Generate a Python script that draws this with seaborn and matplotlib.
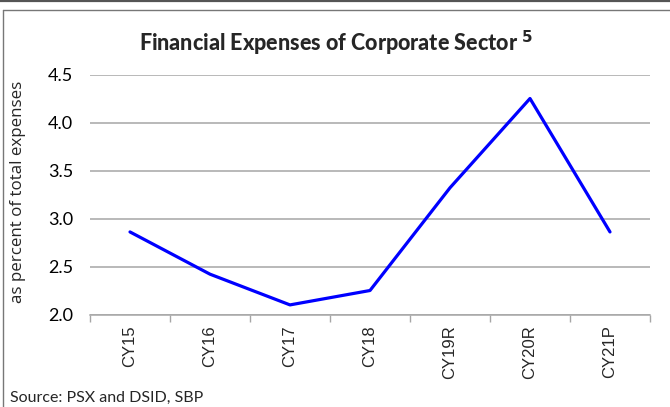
import matplotlib
matplotlib.use("Agg")
import matplotlib.pyplot as plt
import seaborn as sns
import pandas as pd
from matplotlib.lines import Line2D
from matplotlib.ticker import FixedLocator

categories = ["CY15", "CY16", "CY17", "CY18", "CY19R", "CY20R", "CY21P"]
values = [2.86, 2.42, 2.10, 2.25, 3.32, 4.25, 2.86]
yticks = [2.0, 2.5, 3.0, 3.5, 4.0, 4.5]

sns.set_theme(style="white")
plt.rcParams['font.family'] = ['Lato', 'DejaVu Sans']

df = pd.DataFrame({"cat": categories, "val": values})

fig = plt.figure(figsize=(6.7, 4.07), dpi=100)
ax = fig.add_axes([90/670, 1-314.5/407, 560/670, 240/407])

sns.lineplot(data=df, x="cat", y="val", ax=ax, color="#0000FF", linewidth=2.3, sort=False)

ax.set_xlim(-0.5, len(categories)-0.5)
ax.set_ylim(2.0, 4.5)
ax.set_yticks(yticks)
ax.set_yticklabels([f"{v:.1f}" for v in yticks], fontsize=13, family=['Lato', 'DejaVu Sans'])
ax.yaxis.grid(True, color="#a6a6a6", linewidth=1.1)
ax.xaxis.grid(False)
ax.tick_params(axis='y', length=0, pad=12, colors="black")
ax.set_xticks(range(len(categories)))
ax.set_xticklabels(categories, rotation=90, fontsize=12, family=['Liberation Sans'])
ax.xaxis.set_minor_locator(FixedLocator([i - 0.5 for i in range(len(categories)+1)]))
ax.tick_params(axis='x', which='major', length=0, pad=8)
ax.tick_params(axis='x', which='minor', length=5, width=1, color="#a6a6a6", bottom=True)
for s in ["top", "right", "left"]:
    ax.spines[s].set_visible(False)
ax.spines["bottom"].set_color("#a6a6a6")
ax.spines["bottom"].set_linewidth(1.1)
ax.set_xlabel("")
ax.set_ylabel("")

fig.text(18/670, 1-192/407, "as percent of total expenses", rotation=90, ha="center", va="center",
         fontsize=12.2, family=['Open Sans', 'DejaVu Sans'])
fig.text(336/670, 1-43/407, "Financial Expenses of Corporate Sector $^{\\mathbf{5}}$", ha="center", va="center",
         fontsize=15.5, fontweight=900, family=['Lato', 'DejaVu Sans'])
fig.text(10/670, 1-398/407, "Source: PSX and DSID, SBP", ha="left", va="center",
         fontsize=11.5, family=['Lato', 'DejaVu Sans'])

# frame lines
fig.add_artist(Line2D([0, 1], [1-0.8/407, 1-0.8/407], transform=fig.transFigure, color="#555555", linewidth=1.6))
fig.add_artist(Line2D([2.5/670, 1], [1-9.5/407, 1-9.5/407], transform=fig.transFigure, color="#777777", linewidth=1.0))
fig.add_artist(Line2D([2.5/670, 2.5/670], [1-9.5/407, 0], transform=fig.transFigure, color="#777777", linewidth=1.0))

fig.savefig("out.png", dpi=100)
